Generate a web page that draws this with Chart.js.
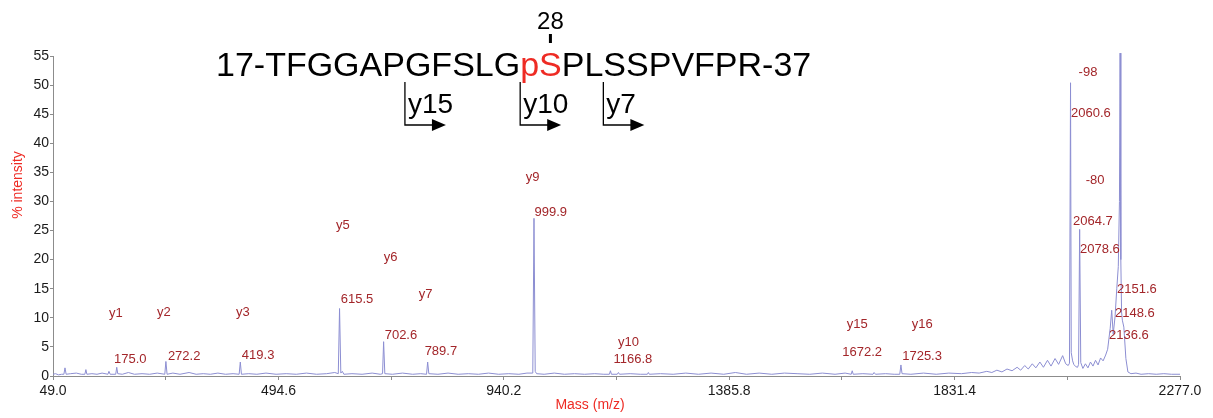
<!DOCTYPE html>
<html>
<head>
<meta charset="utf-8">
<script src="https://cdn.jsdelivr.net/npm/chart.js@4.4.0/dist/chart.umd.min.js"></script>
<style>
  body { margin: 0; background: #ffffff; }
  #wrap { width: 1213px; height: 418px; position: relative; }
</style>
</head>
<body>
<div id="wrap"><canvas id="msChart"></canvas></div>
<script>
// spectrum trace (m/z and % intensity)
var massValues = [
  49, 54, 60, 66, 70.5, 72.7, 75, 84, 95, 105, 112, 114, 116, 126, 136, 146, 157.5, 159.6, 162,
  173, 175, 177, 186, 198, 210, 225, 240, 255, 270, 272.2, 274.5, 286, 300, 318, 332, 346, 360,
  375, 390, 405, 417, 419.3, 421.5, 436, 452, 470, 490, 510, 530, 550, 570, 590, 606, 613, 615.5,
  618, 621, 624, 640, 660, 680, 696, 700.5, 702.6, 705, 720, 740, 760, 776, 787.5, 789.7, 792,
  810, 830, 850, 870, 890, 910, 930, 950, 970, 986, 997.5, 999.9, 1002.3, 1005, 1020, 1040, 1060,
  1080, 1100, 1120, 1138, 1149, 1151, 1153, 1164.5, 1166.8, 1169, 1190, 1210, 1224, 1226, 1228,
  1250, 1275, 1300, 1325, 1350, 1375, 1398, 1420, 1445, 1470, 1495, 1520, 1545, 1570, 1595, 1615,
  1627, 1629, 1631, 1650, 1670, 1672.2, 1675, 1695, 1712, 1723, 1725.3, 1727.5, 1745, 1770, 1795,
  1820, 1845, 1865, 1880, 1895, 1905, 1915, 1925, 1935, 1945, 1955, 1962, 1970, 1977, 1985, 1992,
  2000, 2007, 2015, 2022, 2030, 2037, 2045, 2051, 2056, 2058.5, 2060.6, 2062, 2064.7, 2067, 2071,
  2074.5, 2076.5, 2078.6, 2080.8, 2085, 2090, 2095, 2100, 2105, 2110, 2115, 2120, 2125, 2130, 2134,
  2136.6, 2139, 2142, 2145, 2148.6, 2152, 2155, 2157.3, 2158.6, 2160, 2161.5, 2163, 2166, 2170,
  2174, 2180, 2190, 2200, 2215, 2230, 2245, 2260, 2277
];
var intensityValues = [
  0.3, 0.4, 0.2, 0.3, 0.3, 1.4, 0.3, 0.4, 0.5, 0.3, 0.3, 1.1, 0.3, 0.4, 0.3, 0.5, 0.3, 0.8, 0.3,
  0.3, 1.5, 0.4, 0.3, 0.6, 0.3, 0.4, 0.3, 0.5, 0.3, 2.5, 0.3, 0.5, 0.3, 0.6, 0.3, 0.4, 0.3,
  0.5, 0.3, 0.4, 0.3, 2.4, 0.3, 0.4, 0.3, 0.5, 0.3, 0.4, 0.3, 0.5, 0.3, 0.4, 0.6, 0.4, 11.6,
  0.5, 0.8, 0.3, 0.4, 0.3, 0.5, 0.3, 0.4, 5.9, 0.4, 0.3, 0.5, 0.3, 0.4, 0.3, 2.4, 0.4,
  0.3, 0.5, 0.3, 0.4, 0.3, 0.5, 0.3, 0.4, 0.3, 0.5, 0.5, 27.1, 0.8, 0.4, 0.3, 0.5, 0.3,
  0.4, 0.3, 0.4, 0.3, 0.3, 0.9, 0.3, 0.3, 0.6, 0.3, 0.4, 0.3, 0.3, 0.6, 0.3,
  0.4, 0.3, 0.5, 0.3, 0.5, 0.3, 0.6, 0.3, 0.5, 0.3, 0.5, 0.4, 0.3, 0.5, 0.3, 0.5,
  0.3, 0.9, 0.3, 0.4, 0.3, 0.6, 0.3, 0.4, 0.3, 0.3, 1.9, 0.4, 0.3, 0.5, 0.3,
  0.5, 0.4, 0.6, 0.5, 0.8, 0.6, 1.0, 0.7, 1.2, 0.9, 1.5, 1.0, 1.8, 1.2, 2.1, 1.4,
  2.4, 1.5, 2.7, 1.7, 3.0, 2.0, 3.5, 2.1, 1.8, 2.2, 50.4, 4.0, 2.6, 2.0, 1.6,
  1.5, 2.0, 25.2, 2.3, 1.3, 2.1, 1.4, 2.4, 1.7, 2.7, 1.9, 3.1, 2.6, 3.6, 4.6,
  6.5, 8.2, 11.3, 7.2, 10.2, 15.0, 18.8, 30, 55.5, 20, 11, 9.6, 8.4, 3.0,
  0.7, 0.4, 0.5, 0.3, 0.4, 0.3, 0.4, 0.3, 0.3
];

// labelled peaks
var peakMasses = [175.0, 272.2, 419.3, 615.5, 702.6, 789.7, 999.9, 1166.8, 1672.2, 1725.3,
  2060.6, 2064.7, 2078.6, 2151.6, 2148.6, 2136.6];
var ionNames = ['y1', 'y2', 'y3', 'y5', 'y6', 'y7', 'y9', 'y10', 'y15', 'y16',
  '-98', '-80', '', '', '', ''];

// axis ticks
var xTickValues = [49.0, 494.6, 940.2, 1385.8, 1831.4, 2277.0];
var xTickLabels = ['49.0', '494.6', '940.2', '1385.8', '1831.4', '2277.0'];
var yTickValues = [0, 5, 10, 15, 20, 25, 30, 35, 40, 45, 50, 55];

// peptide annotation
var startResidue = 17;
var endResidue = 37;
var residues = ['T', 'F', 'G', 'G', 'A', 'P', 'G', 'F', 'S', 'L', 'G', 'pS',
  'P', 'L', 'S', 'S', 'P', 'V', 'F', 'P', 'R'];
var siteNumber = 28;
var fragmentIons = [15, 10, 7];

var fontName = '"Liberation Sans", Arial, sans-serif';
var labelColor = '#a3262a';
var redColor = '#ee2b24';

// where each peak label sits: [ion x, ion y, mass x, mass y] in m/z / % units
var labelLayout = [
  [173.4, 10.8, 169.5, 2.9],
  [268.2, 11.0, 276.1, 3.4],
  [424.3, 11.0, 422.3, 3.6],
  [621.8, 25.9, 617.8, 13.1],
  [716.6, 20.4, 704.7, 7.0],
  [785.7, 14.1, 783.7, 4.3],
  [997.0, 34.2, 1001.0, 28.2],
  [1186.6, 5.8, 1157.0, 2.8],
  [1638.9, 8.9, 1609.3, 4.1],
  [1767.3, 8.9, 1727.8, 3.3],
  [2095.1, 52.1, 2061.5, 45.2],
  [2109.0, 33.7, 2065.5, 26.5],
  [0, 0, 2079.3, 21.7],
  [0, 0, 2152.4, 14.8],
  [0, 0, 2148.4, 10.8],
  [0, 0, 2136.6, 7.0]
];

var spectrum = massValues.map(function (m, i) {
  return { x: m, y: intensityValues[i] };
});

var annotations = {
  id: 'msAnnotations',
  afterDatasetsDraw: function (chart) {
    var ctx = chart.ctx;
    var xs = chart.scales.x;
    var ys = chart.scales.y;
    ctx.save();

    // peak labels
    ctx.font = '13px ' + fontName;
    ctx.fillStyle = labelColor;
    ctx.textBaseline = 'middle';
    peakMasses.forEach(function (m, i) {
      var lay = labelLayout[i];
      if (ionNames[i]) {
        ctx.textAlign = 'center';
        ctx.fillText(ionNames[i], xs.getPixelForValue(lay[0]), ys.getPixelForValue(lay[1]));
      }
      ctx.textAlign = 'left';
      ctx.fillText(m.toFixed(1), xs.getPixelForValue(lay[2]), ys.getPixelForValue(lay[3]));
    });

    // axis titles
    ctx.font = '14px ' + fontName;
    ctx.fillStyle = redColor;
    ctx.textAlign = 'center';
    ctx.fillText('Mass (m/z)', 590, 405);
    ctx.save();
    ctx.translate(18, 185);
    ctx.rotate(-Math.PI / 2);
    ctx.fillText('% intensity', 0, 0);
    ctx.restore();

    // peptide sequence
    var x0 = 216, base = 76;
    var siteIdx = siteNumber - startResidue;
    var before = startResidue + '-' + residues.slice(0, siteIdx).join('');
    var site = residues[siteIdx];
    var after = residues.slice(siteIdx + 1).join('') + '-' + endResidue;
    ctx.font = '34px ' + fontName;
    ctx.textAlign = 'left';
    ctx.textBaseline = 'alphabetic';
    ctx.fillStyle = '#000';
    ctx.fillText(before, x0, base);
    var wBefore = ctx.measureText(before).width;
    var wSite = ctx.measureText(site).width;
    ctx.fillStyle = redColor;
    ctx.fillText(site, x0 + wBefore, base);
    ctx.fillStyle = '#000';
    ctx.fillText(after, x0 + wBefore + wSite, base);

    // site number over the S
    var sMid = x0 + wBefore + ctx.measureText('p').width + ctx.measureText('S').width / 2;
    ctx.font = '24px ' + fontName;
    ctx.textAlign = 'center';
    ctx.fillText(String(siteNumber), sMid, 29);
    ctx.fillRect(sMid - 1.5, 34, 3, 9);

    // y fragment arrows
    ctx.strokeStyle = '#000';
    ctx.lineWidth = 1.3;
    fragmentIons.forEach(function (n) {
      var k = residues.length - n;
      ctx.font = '34px ' + fontName;
      var lx = x0 + ctx.measureText(startResidue + '-' + residues.slice(0, k).join('')).width;
      ctx.beginPath();
      ctx.moveTo(lx, 82);
      ctx.lineTo(lx, 125);
      ctx.lineTo(lx + 28, 125);
      ctx.stroke();
      ctx.beginPath();
      ctx.moveTo(lx + 27, 119);
      ctx.lineTo(lx + 41, 125);
      ctx.lineTo(lx + 27, 131);
      ctx.closePath();
      ctx.fill();
      ctx.font = '28px ' + fontName;
      ctx.textAlign = 'left';
      ctx.fillText('y' + n, lx + 3, 113);
    });

    ctx.restore();
  }
};

var ctx = document.getElementById('msChart').getContext('2d');
var msChart = new Chart(ctx, {
  type: 'line',
  data: {
    datasets: [{
      data: spectrum,
      borderColor: '#8c8ed2',
      borderWidth: 1,
      pointRadius: 0,
      tension: 0,
      fill: false,
      clip: { left: 0, right: 0, top: 4, bottom: 0 }
    }]
  },
  options: {
    responsive: true,
    maintainAspectRatio: false,
    animation: false,
    layout: { padding: { left: 0, right: 33, top: 56, bottom: 0 } },
    plugins: {
      legend: { display: false },
      tooltip: { enabled: false }
    },
    scales: {
      x: {
        type: 'linear',
        min: 49,
        max: 2277,
        afterBuildTicks: function (axis) {
          var t = [];
          xTickValues.forEach(function (v, i) {
            t.push({ value: v });
            if (i < xTickValues.length - 1) t.push({ value: (v + xTickValues[i + 1]) / 2 });
          });
          axis.ticks = t;
        },
        afterFit: function (axis) { axis.height = 42; },
        ticks: {
          autoSkip: false,
          maxRotation: 0,
          padding: 3,
          color: '#1a1a1a',
          font: { family: fontName, size: 14 },
          callback: function (v) {
            var i = xTickValues.indexOf(v);
            return i >= 0 ? xTickLabels[i] : '';
          }
        },
        grid: { drawOnChartArea: false, drawTicks: true, tickLength: 4, color: '#8c8c8c' },
        border: { display: true, color: '#8c8c8c' }
      },
      y: {
        min: 0,
        max: 55,
        afterBuildTicks: function (axis) {
          axis.ticks = yTickValues.map(function (v) { return { value: v }; });
        },
        afterFit: function (axis) { axis.width = 53; },
        ticks: {
          padding: 1,
          color: '#1a1a1a',
          font: { family: fontName, size: 14 }
        },
        grid: { drawOnChartArea: false, drawTicks: true, tickLength: 3, color: '#8c8c8c' },
        border: { display: true, color: '#8c8c8c' }
      }
    }
  },
  plugins: [annotations]
});
</script>
</body>
</html>
